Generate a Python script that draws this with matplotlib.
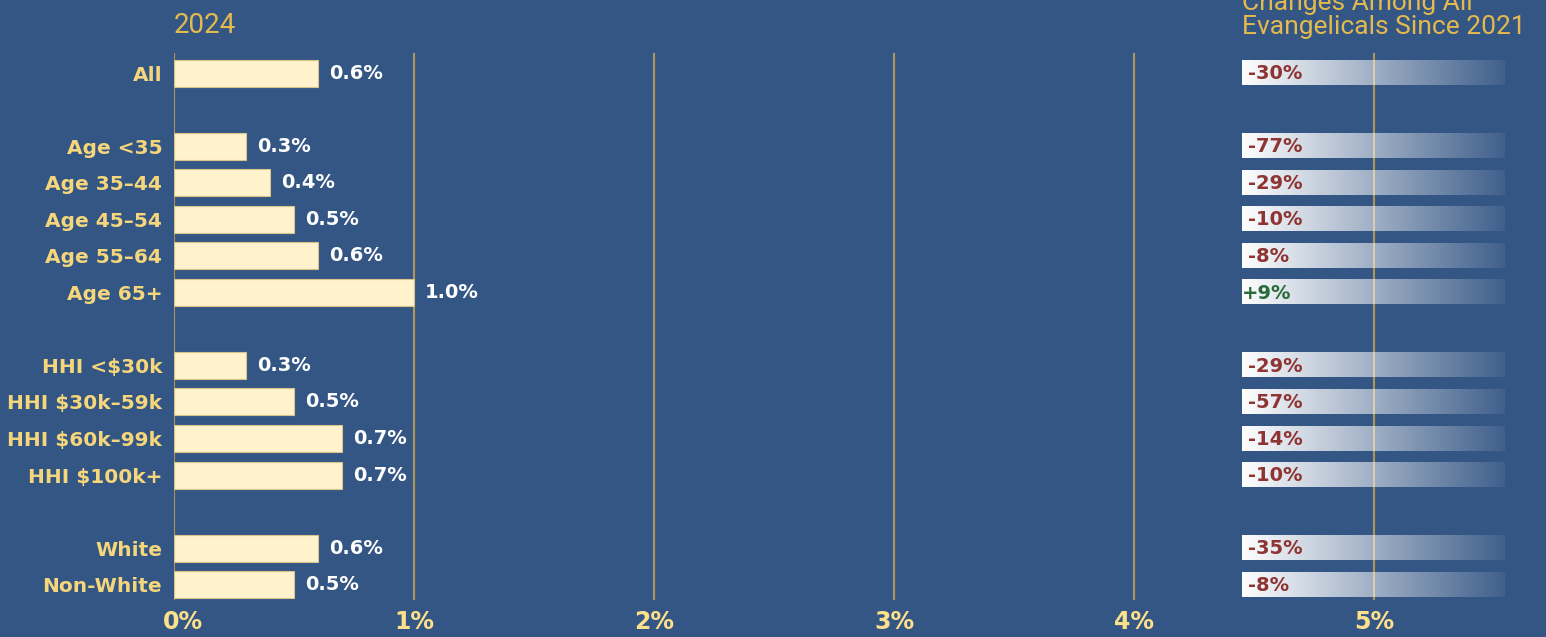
import matplotlib
matplotlib.use("Agg")
import matplotlib.pyplot as plt
import matplotlib.transforms as mtransforms
import numpy as np

# data
categories = ["All",
              "Age <35", "Age 35\u201344", "Age 45\u201354", "Age 55\u201364", "Age 65+",
              "HHI <$30k", "HHI $30k\u201359k", "HHI $60k\u201399k", "HHI $100k+",
              "White", "Non-White"]
row_pos = [0, 2, 3, 4, 5, 6, 8, 9, 10, 11, 13, 14]
values = [0.6, 0.3, 0.4, 0.5, 0.6, 1.0, 0.3, 0.5, 0.7, 0.7, 0.6, 0.5]
changes = ["-30%", "-77%", "-29%", "-10%", "-8%", "+9%",
           "-29%", "-57%", "-14%", "-10%", "-35%", "-8%"]
xticks = [0, 1, 2, 3, 4, 5]

bg = "#345685"
bar_color = "#FFF2CC"
label_color = "#F6D67B"
grid_color = "#AE9655"
title_color = "#E4B94D"
neg_color = "#8E3533"
pos_color = "#2A6B3C"

W, H = 1546, 637
fig = plt.figure(figsize=(W / 100, H / 100), dpi=100, facecolor=bg)
ax = fig.add_axes([174 / W, 37 / H, (W - 174) / W, 547 / H])
ax.set_facecolor(bg)

bold = dict(family=["DejaVu Sans"], weight="bold")

for x in xticks:
    ax.axvline(x, color=grid_color, lw=1.5, zorder=1)

ax.barh(row_pos, values, height=0.74, color=bar_color,
        edgecolor="#D8C48A", linewidth=0.8, zorder=2)
for y, v in zip(row_pos, values):
    ax.text(v + 0.045, y, f"{v:.1f}%", color="white", fontsize=14,
            va="center", ha="left", **bold)

# gradient change bars
g0, g1 = 4.45, 5.545
grad = np.ones((1, 256, 4))
grad[0, :, 3] = np.linspace(1.0, 0.06, 256)
for y, ch in zip(row_pos, changes):
    ax.imshow(grad, extent=(g0, g1, y + 0.33, y - 0.33), aspect="auto",
              interpolation="bilinear", zorder=3, clip_on=False)
    col = pos_color if ch.startswith("+") else neg_color
    ax.text(g0 + (0.0 if ch.startswith("+") else 0.025), y + 0.02, ch,
            color=col, fontsize=14, va="center", ha="left", zorder=4, **bold)
ax.set_xlim(0, (W - 174) / 240)
ax.set_ylim(14.42, -0.55)

ax.set_yticks(row_pos)
ax.set_yticklabels(categories, color=label_color, fontsize=14.5, **bold)
ax.set_xticks(xticks)
ax.set_xticklabels([f"{x}%" for x in xticks], color="#FCE08A",
                   fontsize=17, **bold)
ax.tick_params(axis="both", length=0)
ax.tick_params(axis="y", pad=8.5)
ax.tick_params(axis="x", pad=7)
for s in ax.spines.values():
    s.set_visible(False)
# first tick label sits a little right of its gridline
first = ax.get_xticklabels()[0]
first.set_transform(first.get_transform() +
                    mtransforms.ScaledTranslation(0.09, 0, fig.dpi_scale_trans))

fig.text(174 / W, 1 - 33 / H, "2024", color=title_color, fontsize=20,
         family=["Roboto", "DejaVu Sans"], ha="left", va="baseline")
fig.text(1242 / W, 1 - 34 / H, "Changes Among All\nEvangelicals Since 2021",
         color=title_color, fontsize=19, family=["Roboto", "DejaVu Sans"],
         ha="left", va="baseline", linespacing=1.0)

fig.savefig("out.png", dpi=100, facecolor=bg)
